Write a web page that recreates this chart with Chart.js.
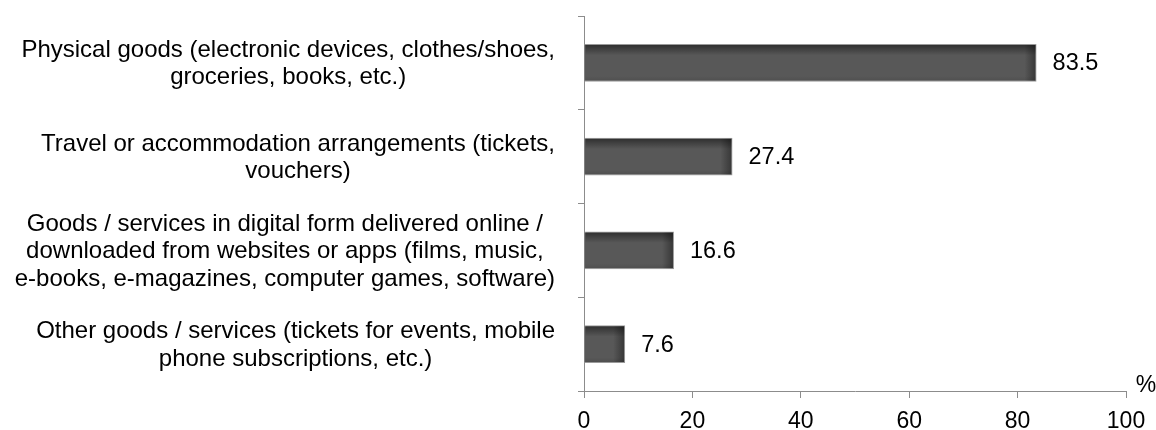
<!DOCTYPE html>
<html><head><meta charset="utf-8">
<script src="https://cdn.jsdelivr.net/npm/chart.js@4/dist/chart.umd.min.js"></script>
<style>html,body{margin:0;padding:0;background:#fff}canvas{display:block}</style>
</head><body>
<canvas id="c" width="1156" height="430"></canvas>
<script>
const categories = [
  ["Physical goods (electronic devices, clothes/shoes,", "groceries, books, etc.)"],
  ["Travel or accommodation arrangements (tickets,", "vouchers)"],
  ["Goods / services in digital form delivered online /", "downloaded from websites or apps (films, music,", "e-books, e-magazines, computer games, software)"],
  ["Other goods / services (tickets for events, mobile", "phone subscriptions, etc.)"]
];
const values = [83.5, 27.4, 16.6, 7.6];
const xTicks = [0, 20, 40, 60, 80, 100];
const unitLabel = "%";

const FONT = '"Liberation Sans", Arial, sans-serif';
const AXIS = '#8c8c8c';

const shadePlugin = {
  id: 'shade',
  afterDatasetsDraw(chart) {
    const ctx = chart.ctx;
    chart.getDatasetMeta(0).data.forEach(el => {
      const p = el.getProps(['x', 'y', 'base', 'height'], true);
      const top = p.y - p.height / 2, bot = p.y + p.height / 2;
      const left = Math.min(p.x, p.base), right = Math.max(p.x, p.base);
      ctx.save();
      ctx.beginPath();
      ctx.rect(left + 1, top + 1, right - left - 2, p.height - 2);
      ctx.clip();
      const g = ctx.createLinearGradient(0, top, 0, bot);
      g.addColorStop(0, 'rgba(0,0,0,0.5)');
      g.addColorStop(0.3, 'rgba(0,0,0,0)');
      g.addColorStop(0.85, 'rgba(0,0,0,0)');
      g.addColorStop(1, 'rgba(0,0,0,0.12)');
      ctx.fillStyle = g;
      ctx.fillRect(left, top, right - left, p.height);
      const h = ctx.createLinearGradient(right - 12, 0, right, 0);
      h.addColorStop(0, 'rgba(0,0,0,0)');
      h.addColorStop(1, 'rgba(0,0,0,0.4)');
      ctx.fillStyle = h;
      ctx.fillRect(right - 12, top, 12, p.height);
      ctx.restore();
    });
  }
};

const textPlugin = {
  id: 'texts',
  afterDraw(chart) {
    const ctx = chart.ctx;
    const area = chart.chartArea;
    const yScale = chart.scales.y;
    ctx.save();
    ctx.fillStyle = '#000';
    // value labels
    ctx.font = '23.5px ' + FONT;
    ctx.textAlign = 'left';
    ctx.textBaseline = 'middle';
    chart.getDatasetMeta(0).data.forEach((el, i) => {
      const p = el.getProps(['x', 'y'], true);
      ctx.fillText(String(values[i]), p.x + 16, p.y + 1);
    });
    // category labels
    ctx.font = '24px ' + FONT;
    ctx.textAlign = 'center';
    const lh = 27.5;
    categories.forEach((lines, i) => {
      const cy = yScale.getPixelForValue(i);
      const maxW = Math.max(...lines.map(l => ctx.measureText(l).width));
      const cx = area.left - 29 - maxW / 2;
      lines.forEach((l, k) => {
        ctx.fillText(l, cx, cy + (k - (lines.length - 1) / 2) * lh + 1);
      });
    });
    // unit
    ctx.font = '23px ' + FONT;
    ctx.fillText(unitLabel, area.right + 20, area.bottom - 5);
    ctx.restore();
  }
};

new Chart(document.getElementById('c'), {
  type: 'bar',
  data: {
    labels: categories.map(l => l.join(' ')),
    datasets: [{
      data: values,
      backgroundColor: '#585858',
      borderColor: '#9a9a9a',
      borderWidth: 1,
      barPercentage: 0.405,
      categoryPercentage: 1
    }]
  },
  options: {
    indexAxis: 'y',
    responsive: false,
    animation: false,
    layout: { padding: { top: 16, right: 30, left: 0, bottom: 0 } },
    plugins: { legend: { display: false }, tooltip: { enabled: false } },
    scales: {
      x: {
        type: 'linear',
        min: 0, max: 100,
        afterBuildTicks: s => { s.ticks = xTicks.map(v => ({ value: v })); },
        afterFit: s => { s.height = 39; },
        ticks: { font: { family: FONT, size: 23 }, color: '#000', padding: 10, maxRotation: 0 },
        grid: { drawOnChartArea: false, drawTicks: true, tickLength: 7, color: AXIS, lineWidth: 1 },
        border: { display: true, color: AXIS, width: 1 }
      },
      y: {
        type: 'category',
        afterFit: s => { s.width = 584; },
        ticks: { display: false },
        grid: { offset: true, drawOnChartArea: false, drawTicks: true, tickLength: 6, color: AXIS, lineWidth: 1 },
        border: { display: true, color: AXIS, width: 1 }
      }
    }
  },
  plugins: [shadePlugin, textPlugin]
});
</script>
</body></html>
